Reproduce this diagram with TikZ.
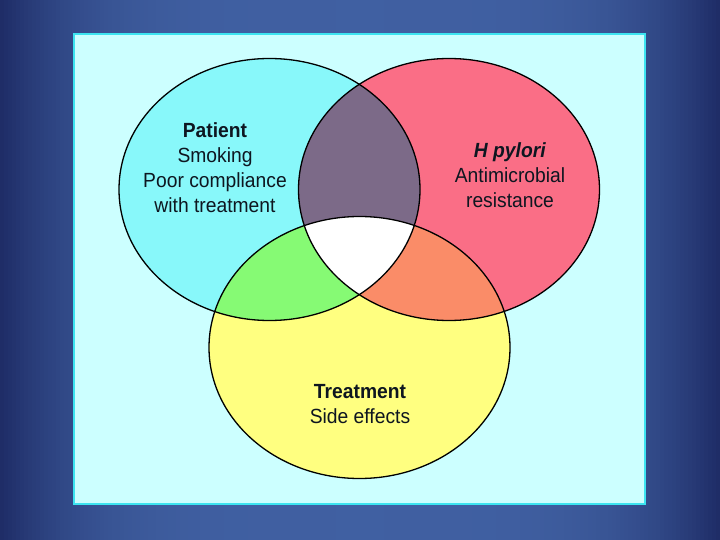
\documentclass[tikz,border=0pt]{standalone}
\usepackage{fontspec}
\setmainfont{Liberation Sans}[FakeStretch=0.94]
\usetikzlibrary{positioning}
\definecolor{SlideEdge}{HTML}{1E2C66}
\definecolor{SlideCore}{HTML}{4060A2}
\definecolor{PanelFill}{HTML}{CCFFFF}
\definecolor{PanelEdge}{HTML}{3CE4F0}
\definecolor{PatientFill}{HTML}{88F8FA}
\definecolor{PyloriFill}{HTML}{FA6E86}
\definecolor{TreatFill}{HTML}{FFFF80}
\definecolor{PatPylFill}{HTML}{7C6A88}
\definecolor{PatTreatFill}{HTML}{86FA74}
\definecolor{PylTreatFill}{HTML}{FA8C68}
\definecolor{Ink}{HTML}{0E1620}
\tikzset{
  set radii/.style={x radius=150.5pt, y radius=131pt},
  set outline/.style={draw=black, line width=1.3pt},
  set label/.style={font=\fontsize{20.5}{25}\selectfont, align=center, text=Ink, inner sep=0pt},
}
\begin{document}
\begin{tikzpicture}[x=1pt, y=-1pt]
  % Slide background: darker towards the left and right edges.
  \useasboundingbox (0,0) rectangle (720,540);
  \foreach \i in {0,...,179} {
    \pgfmathsetmacro\dist{abs(\i*4+2-360)/360}
    \pgfmathtruncatemacro\glow{100*(1-\dist^4)}
    \fill[SlideCore!\glow!SlideEdge] (\i*4,0) rectangle (\i*4+4.6,540);
  }

  % Light panel holding the diagram.
  \fill[PanelFill] (74,34) rectangle (645,504);
  \draw[PanelEdge, line width=1.5pt] (74,34) rectangle (645,504);

  % Set centres.
  \coordinate (patient) at (269.5,189.5);
  \coordinate (pylori) at (449,189.5);
  \coordinate (treat) at (359.5,347.5);

  % Single-set regions.
  \fill[PatientFill] (patient) ellipse [set radii];
  \fill[PyloriFill] (pylori) ellipse [set radii];
  \fill[TreatFill] (treat) ellipse [set radii];

  % Pairwise overlaps.
  \begin{scope}
    \clip (patient) ellipse [set radii];
    \fill[PatPylFill] (pylori) ellipse [set radii];
    \fill[PatTreatFill] (treat) ellipse [set radii];
  \end{scope}
  \begin{scope}
    \clip (pylori) ellipse [set radii];
    \fill[PylTreatFill] (treat) ellipse [set radii];
  \end{scope}

  % Centre overlap of all three sets.
  \begin{scope}
    \clip (patient) ellipse [set radii];
    \clip (pylori) ellipse [set radii];
    \fill[white] (treat) ellipse [set radii];
  \end{scope}

  % Outlines on top.
  \draw[set outline] (patient) ellipse [set radii];
  \draw[set outline] (pylori) ellipse [set radii];
  \draw[set outline] (treat) ellipse [set radii];

  % Set labels.
  \node[set label] (patientText) at (215,168)
    {\textbf{Patient}\\Smoking\\Poor compliance\\with treatment};
  \node[set label] (pyloriText) at (510,175)
    {\textbf{\textit{H pylori}}\\Antimicrobial\\resistance};
  \node[set label] (treatText) at (360,404)
    {\textbf{Treatment}\\Side effects};
\end{tikzpicture}
\end{document}
